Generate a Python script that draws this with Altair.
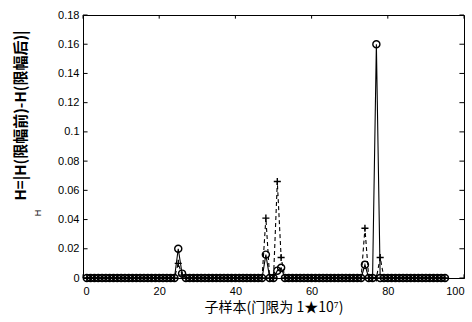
import altair as alt
import pandas as pd

# sample index 1..95
samples = list(range(1, 96))

# solid line, circle markers
h_circle = [
    0, 0, 0, 0, 0, 0, 0, 0, 0, 0,
    0, 0, 0, 0, 0, 0, 0, 0, 0, 0,
    0, 0, 0, 0, 0.020, 0.003, 0, 0, 0, 0,
    0, 0, 0, 0, 0, 0, 0, 0, 0, 0,
    0, 0, 0, 0, 0, 0, 0, 0.016, 0, 0,
    0.005, 0.007, 0, 0, 0, 0, 0, 0, 0, 0,
    0, 0, 0, 0, 0, 0, 0, 0, 0, 0,
    0, 0, 0, 0.009, 0, 0, 0.160, 0, 0, 0,
    0, 0, 0, 0, 0, 0, 0, 0, 0, 0,
    0, 0, 0, 0, 0,
]

# dashed line, plus markers
h_plus = [
    0, 0, 0, 0, 0, 0, 0, 0, 0, 0,
    0, 0, 0, 0, 0, 0, 0, 0, 0, 0,
    0, 0, 0, 0, 0.010, 0.002, 0, 0, 0, 0,
    0, 0, 0, 0, 0, 0, 0, 0, 0, 0,
    0, 0, 0, 0, 0, 0, 0, 0.041, 0, 0,
    0.066, 0.014, 0, 0, 0, 0, 0, 0, 0, 0,
    0, 0, 0, 0, 0, 0, 0, 0, 0, 0,
    0, 0, 0, 0.034, 0, 0, 0, 0.014, 0, 0,
    0, 0, 0, 0, 0, 0, 0, 0, 0, 0,
    0, 0, 0, 0, 0,
]

x_ticks = [0, 20, 40, 60, 80, 100]
y_ticks = [0, 0.02, 0.04, 0.06, 0.08, 0.1, 0.12, 0.14, 0.16, 0.18]

x_title = "子样本(门限为 1★10⁷)"
y_title = "H=|H(限幅前)-H(限幅后)|"
y_small = "H"

df_c = pd.DataFrame({"s": samples, "h": h_circle})
df_p = pd.DataFrame({"s": samples, "h": h_plus})

W, H = 381, 263
FONT = "Liberation Sans"
CJK = "Noto Sans CJK SC"

xs = alt.Scale(domain=[0, 100], nice=False, zero=False)
ys = alt.Scale(domain=[0, 0.18], nice=False)

x_axis = alt.Axis(values=x_ticks, tickCount=len(x_ticks), format="d", title=x_title, grid=False,
                  ticks=False, labelFont=FONT, labelFontSize=11, labelColor="black", labelPadding=7,
                  labelOverlap=False,
                  titleFont=CJK, titleFontSize=14, titleFontWeight="normal", titleColor="black",
                  titlePadding=4, domainColor="black")
y_axis = alt.Axis(values=y_ticks, tickCount=len(y_ticks), format=".2~f", title=y_title, grid=False,
                  ticks=False, labelFont=FONT, labelFontSize=11, labelColor="black", labelPadding=4,
                  labelOverlap=False,
                  titleFont=CJK, titleFontSize=15, titleFontWeight="bold", titleColor="black",
                  titleAngle=270, titleX=-63, titleY=100, titleAlign="center", titleBaseline="middle",
                  domainColor="black")

X = alt.X("s:Q", scale=xs, axis=x_axis)
Y = alt.Y("h:Q", scale=ys, axis=y_axis)

line_c = alt.Chart(df_c).mark_line(color="black", strokeWidth=1.1).encode(x=X, y=Y)
pts_c = alt.Chart(df_c).mark_point(shape="circle", filled=False, size=50, color="black",
                                   strokeWidth=1.4, opacity=1).encode(x=X, y=Y)
line_p = alt.Chart(df_p).mark_line(color="black", strokeWidth=1.1, strokeDash=[4, 3]).encode(x=X, y=Y)
pts_p = alt.Chart(df_p).mark_point(shape="M-1,0L1,0M0,-1L0,1", filled=False, size=50, color="black",
                                   strokeWidth=1.4, opacity=1).encode(x=X, y=Y)

# inward tick marks on all four sides (MATLAB box style)
yt = pd.DataFrame({"h": y_ticks})
xt = pd.DataFrame({"s": x_ticks})
tick_l = alt.Chart(yt).mark_rule(color="black", strokeWidth=1).encode(
    y=Y, x=alt.datum(0), x2=alt.datum(1.2))
tick_r = alt.Chart(yt).mark_rule(color="black", strokeWidth=1).encode(
    y=Y, x=alt.datum(98.8), x2=alt.datum(100))
tick_b = alt.Chart(xt).mark_rule(color="black", strokeWidth=1).encode(
    x=X, y=alt.datum(0), y2=alt.datum(0.0025))
tick_t = alt.Chart(xt).mark_rule(color="black", strokeWidth=1).encode(
    x=X, y=alt.datum(0.1775), y2=alt.datum(0.18))

small = alt.Chart(pd.DataFrame({"t": [y_small]})).mark_text(
    font=FONT, fontSize=9, color="black", angle=270, align="center", baseline="middle"
).encode(text="t:N", x=alt.value(-45), y=alt.value(198))

chart = alt.layer(
    line_c, line_p, pts_p, pts_c, tick_l, tick_r, tick_b, tick_t, small
).properties(
    width=W, height=H,
    autosize=alt.AutoSizeParams(type="none"),
    padding={"left": 83, "top": 15, "right": 8, "bottom": 44},
    background="white",
).configure_view(stroke="black", strokeWidth=1)

chart.save("out.html", embed_options={"renderer": "svg", "actions": False})
